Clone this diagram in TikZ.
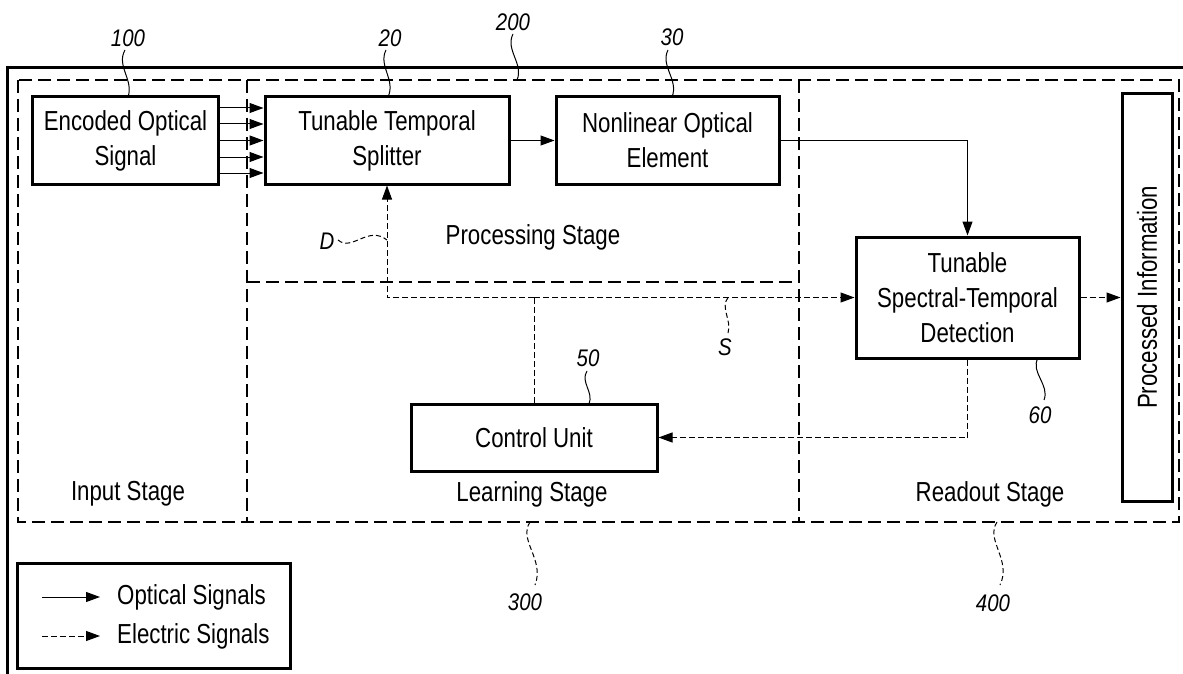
\documentclass[tikz,border=0pt]{standalone}
\usepackage{fontspec}
\setmainfont{Liberation Sans}[FakeStretch=0.81]
\newfontfamily\reffont{Liberation Sans}[FakeStretch=0.85]
\usetikzlibrary{arrows.meta}
\tikzset{
  blk/.style={draw, line width=3pt, inner sep=0pt, align=center, font=\fontsize{27.5}{35}\selectfont},
  txt/.style={inner sep=0pt, align=center, font=\fontsize{27.5}{35}\selectfont},
  reflbl/.style={inner sep=0pt, font=\reffont\itshape\fontsize{24}{26}\selectfont},
  region/.style={line width=2.5pt, dash pattern=on 13pt off 6pt},
  opt/.style={line width=1pt, -{Triangle[length=14pt,width=10pt]}},
  elec/.style={line width=1pt, dash pattern=on 6pt off 3pt},
  elecarr/.style={elec, -{Triangle[length=14pt,width=10pt]}},
  leader/.style={line width=1pt},
  dleader/.style={line width=1pt, dash pattern=on 5pt off 3pt},
}
\begin{document}
\begin{tikzpicture}[x=1pt,y=-1pt]
\useasboundingbox (0,0) rectangle (1183,674);
% outer solid frame
\coordinate (fa) at (7,674);
\coordinate (fb) at (7,68);
\coordinate (fc) at (1183,68);
\draw[line width=3pt] (fa) -- (fb) -- (fc);
% dashed regions
\coordinate (r1) at (18,80);
\coordinate (r2) at (1179,522);
\draw[region] (r1) rectangle (r2);
\coordinate (v1t) at (247,80);
\coordinate (v1b) at (247,522);
\coordinate (v2t) at (799,80);
\coordinate (v2b) at (799,522);
\coordinate (h1l) at (247,282);
\coordinate (h1r) at (799,282);
\draw[region] (v1t) -- (v1b);
\draw[region] (v2t) -- (v2b);
\draw[region] (h1l) -- (h1r);

% blocks
\node[blk, minimum width=186pt, minimum height=87pt] (enc) at (125.5,140.5) {Encoded Optical\\Signal};
\node[blk, minimum width=244pt, minimum height=87pt] (split) at (387,140.5) {Tunable Temporal\\Splitter};
\node[blk, minimum width=223pt, minimum height=87pt] (nonlin) at (667.5,140.5) {Nonlinear Optical\\Element};
\node[blk, minimum width=223pt, minimum height=121pt] (det) at (967.5,297.5) {Tunable\\Spectral-Temporal\\Detection};
\node[blk, minimum width=407pt, minimum height=50pt, rotate=90] (proc) at (1147,297.5) {Processed Information};
\node[blk, minimum width=246pt, minimum height=67pt] (ctrl) at (534,437.5) {Control Unit};

% stage labels
\node[txt] (ps) at (533,237) {Processing Stage};
\node[txt] (is) at (128,494) {Input Stage};
\node[txt] (ls) at (532,494) {Learning Stage};
\node[txt] (rs) at (990,494) {Readout Stage};

% optical arrows
\foreach \d in {-32.5,-16.5,0,16.5,32.5}{
  \draw[opt] ([yshift=\d pt]enc.east) -- ([yshift=\d pt]split.west);
}
\draw[opt] (split) -- (nonlin);
\draw[opt] (nonlin.east) -| (det.north);

% electric signals
\coordinate (j) at (534,297.5);
\draw[elec] (ctrl.north) -- (j);
\draw[elecarr] (j) -| (split.south);
\draw[elecarr] (j) -- (det.west);
\draw[elecarr] (det.south) |- (ctrl.east);
\draw[elecarr] (det.east) -- (det.east -| proc.north);

% reference labels
\node[reflbl] (l100) at (128,38) {100};
\coordinate (l100e) at (128,97);
\draw[leader] (125,50) .. controls (116,66) and (134,80) .. (l100e);
\node[reflbl] (l20) at (390,38) {20};
\coordinate (l20e) at (388,97);
\draw[leader] (386,50) .. controls (378,66) and (396,80) .. (l20e);
\node[reflbl] (l200) at (513,22) {200};
\coordinate (l200e) at (517,80);
\draw[leader] (513,34) .. controls (505,50) and (524,64) .. (l200e);
\node[reflbl] (l30) at (672,37) {30};
\coordinate (l30e) at (672,97);
\draw[leader] (668,50) .. controls (660,66) and (679,80) .. (l30e);
\node[reflbl] (l50) at (588,358) {50};
\coordinate (l50e) at (589,404);
\draw[leader] (587,371) .. controls (580,382) and (594,392) .. (l50e);
\node[reflbl] (l60) at (1040,415) {60};
\coordinate (l60s) at (1038,358);
\draw[leader] (l60s) .. controls (1030,372) and (1050,385) .. (1044,400);
\node[reflbl] (lD) at (327,241) {D};
\coordinate (lDe) at (387,240);
\draw[dleader] (338,240) .. controls (352,252) and (368,225) .. (lDe);
\node[reflbl] (lS) at (725,347) {S};
\coordinate (lSs) at (728,297.5);
\draw[dleader] (lSs) .. controls (720,308) and (732,320) .. (728,333);
\node[reflbl] (l300) at (525,602) {300};
\coordinate (l300s) at (530,522);
\draw[dleader] (l300s) .. controls (518,540) and (545,560) .. (535,585);
\node[reflbl] (l400) at (993,603) {400};
\coordinate (l400s) at (997,522);
\draw[dleader] (l400s) .. controls (985,540) and (1012,560) .. (1000,585);

% legend
\coordinate (lg1) at (17,563);
\coordinate (lg2) at (290,668);
\draw[line width=3pt] (lg1) rectangle (lg2);
\coordinate (oa) at (42,597);
\coordinate (ob) at (100,597);
\coordinate (ea) at (42,636);
\coordinate (eb) at (100,636);
\draw[opt] (oa) -- (ob);
\draw[elecarr] (ea) -- (eb);
\node[txt, anchor=west] (ot) at (117,597) {Optical Signals};
\node[txt, anchor=west] (et) at (117,636) {Electric Signals};
\end{tikzpicture}
\end{document}
